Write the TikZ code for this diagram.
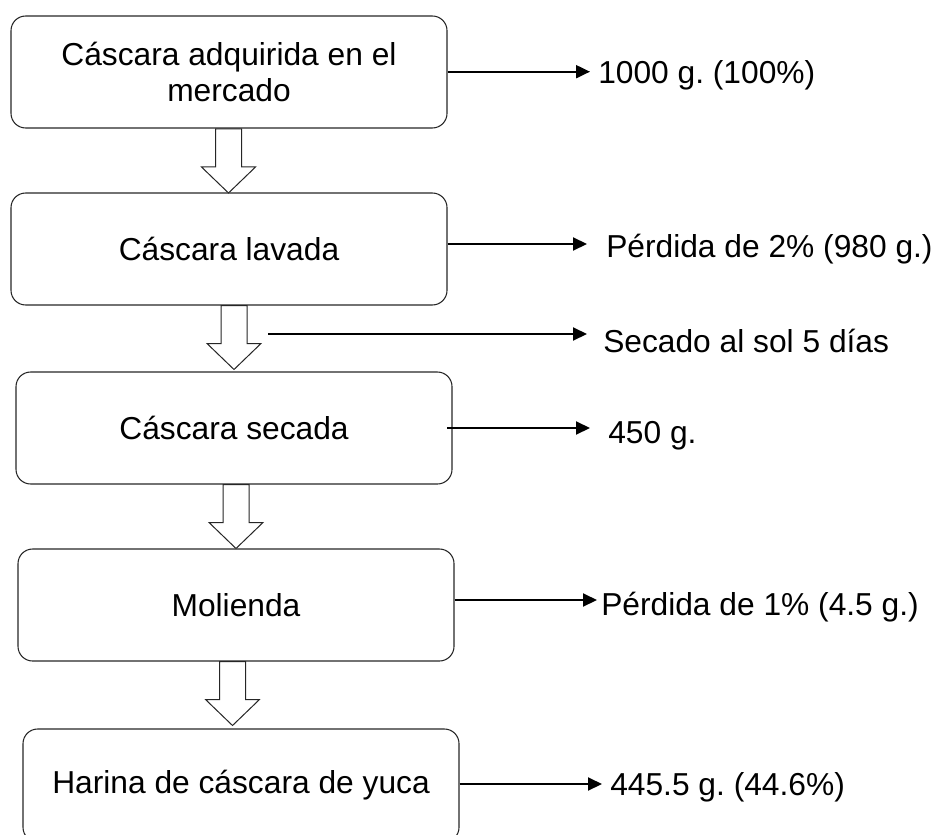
\documentclass[tikz,border=0pt]{standalone}
\usepackage{fontspec}
\setmainfont{Liberation Sans}
\usetikzlibrary{arrows.meta}
\frenchspacing
\tikzset{
 box/.style={draw=black!85, line width=0.8pt, rounded corners=11pt, minimum width=327pt, minimum height=84pt, align=center, font=\fontsize{23.8}{27.4}\selectfont, inner sep=0pt},
 lbl/.style={anchor=base west, inner sep=0pt, font=\fontsize{23.8}{27.4}\selectfont},
 flow/.style={line width=1.5pt, -{Triangle[length=10.5pt,width=9.75pt]}},
 blockarrow/.pic={\draw[line width=0.75pt, draw=black!85, fill=white] (-13,0) -- (13,0) -- (13,38) -- (27,38) -- (0,64) -- (-27,38) -- (-13,38) -- cycle;}
}
\begin{document}
\begin{tikzpicture}[x=0.75pt,y=-0.75pt]
\useasboundingbox (0,0) rectangle (937,834);
\clip (0,0) rectangle (937,834);
% boxes
\node[box] (b1) at (229,72) {Cáscara adquirida en el\\mercado};
\node[box] (b2) at (229,249) {Cáscara lavada};
\node[box] (b3) at (234,428) {Cáscara secada};
\node[box] (b4) at (236,605) {Molienda};
\node[box, minimum height=84.75pt] (b5) at (241,785.5) {Harina de cáscara de yuca};
% block arrows
\pic at (228.5,129) {blockarrow};
\pic at (234,305.5) {blockarrow};
\pic at (236,484.5) {blockarrow};
\pic at (232.5,661.5) {blockarrow};
% labels
\node[lbl] (t1) at (598,84) {1000 g. (100\%)};
\node[lbl] (t2) at (606,257) {Pérdida de 2\% (980 g.)};
\node[lbl] (t3) at (603,352) {Secado al sol 5 días};
\node[lbl] (t4) at (608,443) {450 g.};
\node[lbl] (t5) at (601,615) {Pérdida de 1\% (4.5 g.)};
\node[lbl] (t6) at (610,795) {445.5 g. (44.6\%)};
% side arrows
\coordinate (a1) at (590,71.7);
\coordinate (a2) at (587,244);
\coordinate (s3) at (268,334);
\coordinate (a3) at (587,334);
\coordinate (s4) at (447,428);
\coordinate (a4) at (590,428);
\coordinate (a5) at (597,600);
\coordinate (a6) at (602,784);
\draw[flow] (b1.east |- a1) -- (a1);
\draw[flow] (b2.east |- a2) -- (a2);
\draw[flow] (s3) -- (a3);
\draw[flow] (s4) -- (a4);
\draw[flow] (b4.east |- a5) -- (a5);
\draw[flow] (b5.east |- a6) -- (a6);
\end{tikzpicture}
\end{document}
